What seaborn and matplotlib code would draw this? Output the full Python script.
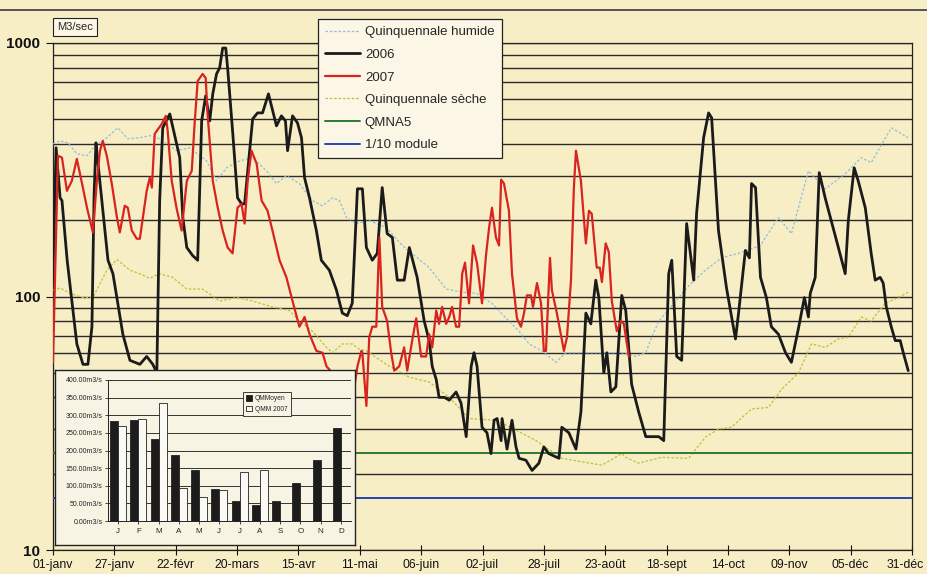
import numpy as np
import pandas as pd
import matplotlib
matplotlib.use('Agg')
import matplotlib.pyplot as plt
import seaborn as sns
from matplotlib.lines import Line2D
from matplotlib.ticker import LogLocator, NullFormatter

# ---------------- data (day of year, m3/s) ----------------
date_ticks = [0, 26, 52, 78, 104, 130, 156, 182, 208, 234, 260, 286, 312, 338, 364]
date_labels = ['01-janv', '27-janv', '22-févr', '20-mars', '15-avr', '11-mai', '06-juin',
               '02-juil', '28-juil', '23-août', '18-sept', '14-oct', '09-nov', '05-déc', '31-déc']

q_2006 = [(0, 120), (1.3, 386), (3, 245), (3.8, 239), (6, 139), (10.1, 65), (12.7, 54), (14.8, 54),
          (16.5, 76), (17.4, 250), (18.2, 404), (19, 340), (23.3, 139), (25.4, 123), (29.6, 71),
          (32.6, 56), (36.8, 54), (39.7, 58), (42.3, 54), (44, 50), (45.2, 239), (46.5, 463),
          (49.5, 525), (52.4, 400), (53.7, 353), (55, 205), (56.7, 156), (59.2, 145), (61.3, 139),
          (63, 493), (64.7, 619), (66.4, 493), (67.7, 630), (69.3, 755), (70.6, 797), (71.9, 955),
          (73.2, 955), (74, 797), (76.1, 450), (78.2, 245), (79.9, 232), (81.2, 232), (83.3, 376),
          (84.6, 502), (86.7, 530), (88.8, 530), (91.3, 630), (94.7, 471), (96.8, 516), (98.5, 493),
          (99.4, 376), (101.5, 516), (103.6, 484), (105.3, 423), (106.6, 294), (108.7, 245),
          (111.6, 182), (113.7, 139), (117.1, 127), (120.1, 106), (122.6, 86), (124.7, 84),
          (126.8, 94), (129, 266), (131.1, 266), (132.8, 156), (135.3, 139), (137.4, 148),
          (139.5, 269), (141.6, 177), (143.8, 171), (145.9, 116), (148.8, 116), (151, 156),
          (154.3, 119), (157.3, 80), (159.4, 67), (160.7, 53), (162.4, 47), (163.6, 40), (165.8, 40),
          (167.9, 39), (170.8, 42), (172.9, 38), (175.1, 28), (177.2, 53), (178.4, 60), (179.7, 53),
          (181.8, 30.5), (183.9, 29), (185.6, 24), (186.9, 32.5), (188.2, 33), (189.9, 27),
          (190.3, 33), (192.4, 25), (194.5, 32.5), (196.2, 25.5), (197.5, 23), (200.4, 22.6),
          (203, 20.6), (205.9, 22), (208, 25.5), (210.1, 24), (214.4, 23), (215.6, 30.5),
          (218.6, 29), (221.6, 25), (223.7, 35), (225.8, 86), (227.9, 78), (230, 116), (231.3, 99),
          (233.4, 50), (234.7, 60), (236.4, 42), (238.5, 44), (241, 101), (242.7, 88), (245.2, 45),
          (248.2, 35), (251.2, 28), (256.7, 28), (258.8, 27), (260.9, 123), (262.2, 139),
          (264.3, 58), (266.4, 56), (268.5, 194), (271.5, 116), (272.7, 212), (275.7, 423),
          (277.8, 530), (279.1, 507), (282, 182), (285.4, 108), (289.2, 68), (290.5, 86),
          (293.4, 152), (295.1, 142), (296, 279), (297.7, 269), (299.8, 119), (302.3, 99),
          (304.4, 76), (307.4, 71), (310.4, 60), (312.9, 55), (315.9, 75), (318.4, 99), (320.1, 83),
          (320.9, 103), (323, 119), (324.7, 308), (327.3, 243), (329.8, 199), (332.8, 156),
          (335.7, 123), (337, 199), (339.5, 322), (341.2, 286), (344.2, 224), (346.7, 148),
          (348.4, 116), (350.5, 119), (351.8, 113), (353.1, 91), (355.2, 76), (356.9, 67),
          (359, 67), (360.3, 60), (362.4, 51)]

q_2007 = [(0, 55), (2.1, 359), (3.8, 353), (5.9, 261), (8, 286), (10.1, 349), (12.3, 279),
          (14.4, 224), (16.9, 179), (18.6, 286), (19.9, 376), (21.1, 411), (22.8, 359), (24.9, 279),
          (27.1, 205), (28.3, 179), (30.4, 228), (31.7, 224), (33.4, 182), (35.5, 169), (36.8, 169),
          (38.1, 205), (39.7, 261), (41, 294), (41.9, 269), (43.1, 438), (46.1, 480), (47.8, 516),
          (48.6, 450), (50.3, 286), (52.4, 222), (54.5, 182), (56.7, 286), (58.8, 313), (60, 480),
          (61.3, 708), (63.4, 755), (64.7, 728), (65.5, 525), (67.7, 286), (69.8, 224), (71.9, 182),
          (74, 156), (76.1, 148), (78.2, 224), (79.9, 232), (81.2, 194), (82.5, 286), (84.1, 376),
          (86.3, 334), (88.4, 239), (90.9, 218), (93, 182), (96, 139), (98.9, 119), (101.5, 96),
          (104.4, 76), (106.6, 83), (108.7, 71), (111.6, 61), (114.2, 60), (115.9, 53), (118.4, 50),
          (121.4, 44), (124.3, 47), (127.7, 44), (129, 53), (130.7, 61), (131.1, 60), (132.8, 37),
          (134, 69), (135.3, 76), (137, 76), (138.3, 171), (139.5, 91), (141.6, 80), (143.3, 60),
          (144.6, 51), (146.7, 53), (148.8, 63), (150.1, 51), (152.2, 67), (153.9, 82), (156, 58),
          (158.1, 58), (159.4, 71), (160.7, 63), (162.4, 88), (163.6, 78), (164.9, 91), (166.6, 78),
          (167.9, 83), (169.1, 91), (170.8, 76), (172.1, 76), (173.4, 123), (174.6, 136),
          (176.3, 94), (178, 159), (179.7, 135), (181.8, 94), (183.5, 146), (184.8, 187),
          (186, 224), (187.7, 171), (189, 159), (189.9, 289), (191.1, 279), (193.2, 218),
          (194.5, 123), (196.6, 82), (198.3, 76), (199.6, 86), (200.8, 101), (202.5, 101),
          (203.4, 91), (205.1, 113), (206.8, 94), (208, 61), (208.9, 61), (210.6, 142), (211.4, 106),
          (213.5, 86), (215.2, 71), (216.5, 61), (217.8, 69), (219.5, 116), (220.7, 266),
          (221.6, 376), (223.7, 286), (225.8, 162), (227.1, 218), (228.3, 212), (230.4, 130),
          (231.7, 130), (232.6, 114), (234.2, 162), (235.5, 150), (236.8, 96), (238.9, 73),
          (240.6, 80), (241.9, 78), (244, 58)]

q_humide = [(0, 400), (3, 411), (6.3, 404), (10.1, 366), (14.4, 359), (17.8, 393), (22.8, 423),
            (27.5, 463), (31.7, 419), (36.8, 423), (41, 431), (45.2, 419), (52.4, 376), (57.9, 386),
            (65.1, 343), (69.3, 286), (73.6, 322), (79.1, 343), (84.6, 353), (90.5, 313), (94.7, 279),
            (98.9, 300), (104.4, 279), (109.9, 239), (114.2, 228), (118.4, 245), (121.4, 239),
            (124.3, 205), (128.5, 194), (134, 199), (141.2, 187), (148, 159), (159.4, 130),
            (166.6, 107), (173.4, 104), (179.3, 103), (186, 94), (193.2, 80), (197.5, 73),
            (201.7, 65), (207.2, 61), (213.1, 55), (217.3, 60), (224.1, 60), (230, 60), (235.5, 60),
            (241, 60), (246.9, 58), (251.2, 60), (253.7, 69), (256.7, 80), (259.6, 86), (269.3, 110),
            (276.5, 127), (283.3, 142), (290.5, 148), (299.8, 159), (307.4, 205), (312.9, 177),
            (320.1, 313), (327.3, 266), (335.7, 305), (342.5, 353), (346.7, 337), (355.2, 463),
            (362.4, 423)]

q_seche = [(0, 106), (3, 108), (7.2, 103), (12.7, 99), (16.9, 99), (22.8, 127), (27.1, 140),
           (32.6, 127), (36.8, 123), (41, 118), (45.2, 123), (50.7, 119), (56.7, 107), (63.4, 107),
           (70.6, 96), (77.8, 99), (84.6, 96), (93, 91), (100.2, 88), (104.4, 80), (109.9, 73),
           (115.9, 63), (118.4, 60), (122.6, 65), (126.8, 65), (129.8, 62), (132.8, 61), (141.2, 54),
           (151, 48), (159.4, 46), (167.9, 40), (176.3, 33), (187.7, 32.5), (196.2, 29.7),
           (204.7, 27), (215.6, 23), (222.8, 22.4), (232.6, 21.6), (241, 24), (242.7, 23.2),
           (248.2, 22), (257.9, 23.2), (269.3, 23), (276.5, 27.9), (282, 30), (287.5, 30.5),
           (296, 36), (303.2, 36.5), (308.7, 43), (315.9, 50), (321.4, 65), (327.3, 63), (332.8, 68),
           (337, 69), (342.5, 83), (346.7, 80), (352.6, 94), (358.1, 99), (362.4, 104)]

qmna5 = 24.1
dixieme_module = 16.0

month_keys = ['jan', 'fev', 'mar', 'avr', 'mai', 'jun', 'jul', 'aou', 'sep', 'oct', 'nov', 'dec']
month_letters = ['J', 'F', 'M', 'A', 'M', 'J', 'J', 'A', 'S', 'O', 'N', 'D']
qm_moyen = [285, 287, 232, 187, 145, 92, 58, 45, 58, 107, 172, 265]
qm_2007 = [270, 290, 335, 95, 67, 87, 138, 145, np.nan, np.nan, np.nan, np.nan]

# ---------------- style ----------------
sns.set_style('ticks')
plt.rcParams['font.family'] = ['Liberation Sans', 'DejaVu Sans']
BG = '#f8eec6'
BOX = '#fbf6e6'
W, H = 928, 574

fig = plt.figure(figsize=(W / 100, H / 100), dpi=100, facecolor=BG)
ax = fig.add_axes([53 / W, 24 / H, 859 / W, 507 / H], facecolor=BG)
ax.set_yscale('log')


def plot_series(pairs, **kw):
    d, v = zip(*pairs)
    sns.lineplot(x=list(d), y=list(v), ax=ax, estimator=None, sort=False, **kw)


plot_series(q_humide, color='#8fbfd8', linewidth=0.9, linestyle=(0, (2, 1.5)),
            label='Quinquennale humide', zorder=3)
plot_series(q_seche, color='#b9c235', linewidth=0.9, linestyle=(0, (2, 1.5)),
            label='Quinquennale sèche', zorder=3)
plot_series(q_2006, color='#1b1b1b', linewidth=2.0, label='2006', zorder=4)
plot_series(q_2007, color='#d8231f', linewidth=1.6, label='2007', zorder=5)
ax.axhline(qmna5, color='#2f7a35', linewidth=1.4, label='QMNA5', zorder=3)
ax.axhline(dixieme_module, color='#2444b8', linewidth=1.4, label='1/10 module', zorder=3)

ax.set_xlim(0, 364)
ax.set_ylim(10, 1000)
ax.set_xticks(date_ticks)
# last label drawn separately, nudged left so it stays inside the canvas
ax.set_xticklabels(date_labels[:-1] + [''], fontsize=8.8)
ax.annotate(date_labels[-1], xy=(date_ticks[-1], 10), xycoords='data',
            xytext=(-5, -6.6), textcoords='offset points', ha='center', va='top',
            fontsize=8.8, color='#111', annotation_clip=False)
ax.set_yticks([10, 100, 1000])
ax.set_yticklabels(['10', '100', '1000'], fontsize=11, fontweight='bold')
ax.yaxis.set_minor_locator(LogLocator(base=10, subs=np.arange(2, 10)))
ax.yaxis.set_minor_formatter(NullFormatter())
ax.tick_params(axis='y', which='minor', length=0)
ax.tick_params(axis='y', which='major', length=5, width=0.8, pad=4, colors='#111')
ax.tick_params(axis='x', which='major', direction='inout', length=7, width=0.8, pad=3, colors='#111')
ax.grid(True, which='both', axis='y', color='#2a2a2a', linewidth=1.0, zorder=1)
ax.grid(False, axis='x')
ax.set_axisbelow(True)
for s in ax.spines.values():
    s.set_color('#222')
    s.set_linewidth(0.9)
ax.set_xlabel('')
ax.set_ylabel('')

handles, labels = ax.get_legend_handles_labels()
hmap = dict(zip(labels, handles))
order = ['Quinquennale humide', '2006', '2007', 'Quinquennale sèche', 'QMNA5', '1/10 module']
leg = ax.legend([hmap[k] for k in order], order, loc='upper left',
                bbox_to_anchor=(318 / W, 1 - 19 / H), bbox_transform=fig.transFigure,
                frameon=True, fancybox=False, framealpha=1, facecolor=BOX, edgecolor='#222',
                fontsize=9.5, handlelength=2.6, labelspacing=0.78, borderpad=0.55,
                handletextpad=0.4, borderaxespad=0)
leg.get_frame().set_linewidth(0.9)
leg.set_zorder(10)

fig.text(57 / W, 1 - 27 / H, 'M3/sec', fontsize=8, va='center', ha='left',
         bbox=dict(boxstyle='square,pad=0.35', facecolor=BOX, edgecolor='#222', linewidth=0.8))

fig.add_artist(Line2D([0, 1], [1 - 10 / H, 1 - 10 / H], transform=fig.transFigure,
                      color='#3a3a3a', linewidth=1.2))

# ---------------- inset bar chart ----------------
frame = fig.add_axes([55 / W, 29 / H, 300 / W, 175 / H], zorder=3, facecolor='#f8f4e4')
frame.set_xticks([])
frame.set_yticks([])
for s in frame.spines.values():
    s.set_color('#222')
    s.set_linewidth(1.0)

inner = fig.add_axes([108 / W, 53 / H, 243 / W, 141 / H], zorder=4, facecolor='none')
df = pd.DataFrame({
    'month': month_keys * 2,
    'serie': ['QMMoyen'] * 12 + ['QMM 2007'] * 12,
    'value': qm_moyen + qm_2007,
})
sns.barplot(data=df, x='month', y='value', hue='serie', order=month_keys,
            hue_order=['QMMoyen', 'QMM 2007'],
            palette={'QMMoyen': '#1c1c1c', 'QMM 2007': '#fbfaf3'},
            edgecolor='#222', linewidth=0.6, width=0.8, ax=inner, zorder=3)
inner.set_ylim(0, 400)
yt = list(range(0, 401, 50))
inner.set_yticks(yt)
inner.set_yticklabels([f'{v:.2f}m3/s' for v in yt], fontsize=5.0)
inner.set_xticks(range(12))
inner.set_xticklabels(month_letters, fontsize=5.8)
inner.tick_params(axis='y', length=2, width=0.6, pad=2)
inner.tick_params(axis='x', length=2, width=0.6, pad=3)
inner.yaxis.grid(True, color='#333', linewidth=0.7)
inner.set_axisbelow(True)
inner.set_xlabel('')
inner.set_ylabel('')
for k in ['top', 'right']:
    inner.spines[k].set_visible(False)
for k in ['left', 'bottom']:
    inner.spines[k].set_color('#222')
    inner.spines[k].set_linewidth(0.7)
ileg = inner.legend(loc='upper left', bbox_to_anchor=(243 / W, 1 - 392 / H),
                    bbox_transform=fig.transFigure, fontsize=4.8, frameon=True, fancybox=False,
                    framealpha=1, facecolor='#f8f4e4', edgecolor='#222', handlelength=0.9,
                    handleheight=0.9, labelspacing=0.5, borderpad=0.5, handletextpad=0.4,
                    borderaxespad=0)
ileg.get_frame().set_linewidth(0.6)

fig.savefig('out.png', dpi=100, facecolor=BG)
